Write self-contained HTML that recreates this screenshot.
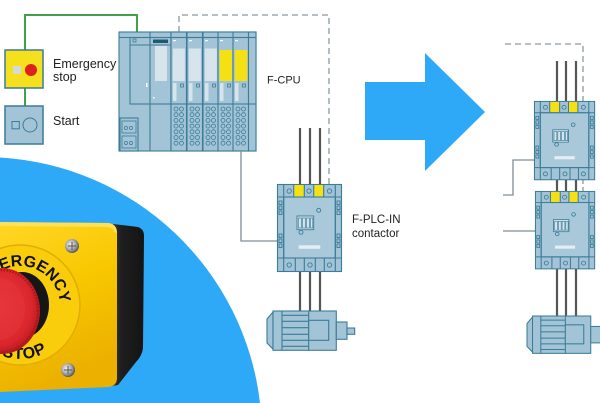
<!DOCTYPE html>
<html><head><meta charset="utf-8">
<style>
html,body{margin:0;padding:0;background:#fff;width:600px;height:403px;overflow:hidden;}
svg{display:block;}
text{font-family:"Liberation Sans",sans-serif;}
</style></head>
<body>
<svg width="600" height="403" viewBox="0 0 600 403" xmlns="http://www.w3.org/2000/svg" overflow="hidden">
<defs>
  <clipPath id="frame"><rect x="0" y="0" width="600" height="403"/></clipPath>
  <linearGradient id="yel" x1="0" y1="0" x2="0.3" y2="1">
    <stop offset="0" stop-color="#ffd726"/>
    <stop offset="0.5" stop-color="#f8c700"/>
    <stop offset="1" stop-color="#ebb000"/>
  </linearGradient>
  <linearGradient id="blk" x1="0" y1="0" x2="1" y2="0">
    <stop offset="0" stop-color="#3a3a3a"/>
    <stop offset="0.3" stop-color="#1e1e1e"/>
    <stop offset="1" stop-color="#141414"/>
  </linearGradient>
  <radialGradient id="red" cx="0.45" cy="0.45" r="0.6">
    <stop offset="0" stop-color="#ee3d40"/>
    <stop offset="0.75" stop-color="#d9262c"/>
    <stop offset="1" stop-color="#a8161b"/>
  </radialGradient>
  <radialGradient id="scr" cx="0.4" cy="0.4" r="0.6">
    <stop offset="0" stop-color="#f4f4f4"/>
    <stop offset="0.6" stop-color="#a9a9a9"/>
    <stop offset="1" stop-color="#5a5a5a"/>
  </radialGradient>

  <g id="dots" fill="none" stroke="#3b7c99" stroke-width="0.8">
    <circle cx="5" cy="109" r="2"/><circle cx="10.5" cy="109" r="2"/>
    <circle cx="5" cy="114.7" r="2"/><circle cx="10.5" cy="114.7" r="2"/>
    <circle cx="5" cy="120.4" r="2"/><circle cx="10.5" cy="120.4" r="2"/>
    <circle cx="5" cy="126.1" r="2"/><circle cx="10.5" cy="126.1" r="2"/>
    <circle cx="5" cy="131.8" r="2"/><circle cx="10.5" cy="131.8" r="2"/>
    <circle cx="5" cy="137.5" r="2"/><circle cx="10.5" cy="137.5" r="2"/>
    <circle cx="5" cy="143.2" r="2"/><circle cx="10.5" cy="143.2" r="2"/>
  </g>
  <g id="io" stroke="#3b7c99" stroke-width="1.1">
    <rect x="0" y="32" width="15.5" height="119" fill="#a3c3d6"/>
    <line x1="0" y1="37.5" x2="15.5" y2="37.5"/>
    <rect x="2" y="40" width="3" height="1.2" fill="#fff" stroke="none"/>
    <rect x="2" y="83" width="3.5" height="18" fill="#d7e4ec" stroke="none"/>
    <rect x="9.5" y="84" width="3" height="3" fill="none" stroke-width="0.8"/>
    <line x1="0" y1="104" x2="15.5" y2="104"/>
    <use href="#dots"/>
  </g>

  <g id="ct" stroke="#3b7c99" stroke-width="1.1">
    <rect x="0.5" y="0.5" width="64" height="87" fill="#a3c3d6"/>
    <rect x="16.7" y="1" width="10.6" height="12" fill="#f5e014" stroke="none"/>
    <rect x="36.7" y="1" width="10" height="12" fill="#f5e014" stroke="none"/>
    <rect x="6.7" y="13" width="51.6" height="61" fill="#a9c8da"/>
    <line x1="0.5" y1="13" x2="64.5" y2="13"/>
    <line x1="0.5" y1="74" x2="64.5" y2="74"/>
    <line x1="6.7" y1="0.5" x2="6.7" y2="87.5"/>
    <line x1="58.3" y1="0.5" x2="58.3" y2="87.5"/>
    <line x1="16.7" y1="0.5" x2="16.7" y2="13"/>
    <line x1="27.3" y1="0.5" x2="27.3" y2="13"/>
    <line x1="36.7" y1="0.5" x2="36.7" y2="13"/>
    <line x1="46.7" y1="0.5" x2="46.7" y2="13"/>
    <line x1="18.3" y1="74" x2="18.3" y2="87.5"/>
    <line x1="27.3" y1="74" x2="27.3" y2="87.5"/>
    <line x1="38.3" y1="74" x2="38.3" y2="87.5"/>
    <line x1="47.3" y1="74" x2="47.3" y2="87.5"/>
    <g fill="none" stroke-width="0.9">
      <circle cx="12.2" cy="7" r="2.2"/><circle cx="32" cy="7" r="2.2"/><circle cx="52.5" cy="7" r="2.2"/>
      <circle cx="12.2" cy="81" r="2.2"/><circle cx="33" cy="81" r="2.2"/><circle cx="52.5" cy="81" r="2.2"/>
      <rect x="2" y="17" width="3" height="3.5"/><rect x="2" y="22" width="3" height="3.5"/><rect x="2" y="27" width="3" height="3.5"/>
      <rect x="2" y="50" width="3" height="3.5"/><rect x="2" y="55" width="3" height="3.5"/><rect x="2" y="60" width="3" height="3.5"/>
      <rect x="60" y="17" width="3" height="3.5"/><rect x="60" y="22" width="3" height="3.5"/><rect x="60" y="27" width="3" height="3.5"/>
      <rect x="60" y="50" width="3" height="3.5"/><rect x="60" y="55" width="3" height="3.5"/><rect x="60" y="60" width="3" height="3.5"/>
      <circle cx="41.7" cy="26.3" r="2"/>
      <circle cx="24" cy="48.3" r="2"/>
    </g>
    <rect x="20" y="32" width="16.7" height="13.7" fill="#d7e4ec" stroke-width="0.9"/>
    <g fill="none" stroke-width="0.7">
      <rect x="21.3" y="34" width="3" height="10"/><rect x="25.3" y="34" width="3" height="10"/>
      <rect x="29.3" y="34" width="3" height="10"/><rect x="33.3" y="34" width="2.5" height="10"/>
    </g>
    <rect x="21.7" y="61.3" width="21.6" height="3.5" fill="#e6eef3" stroke="none"/>
  </g>

  <g id="motor" stroke="#3b7c99" stroke-width="1.1" fill="#a3c3d6">
    <polygon points="6,1 0,8 0,32 6,38"/>
    <rect x="6" y="0" width="63.3" height="39.3"/>
    <line x1="15" y1="0" x2="15" y2="39.3"/>
    <line x1="41.7" y1="0" x2="41.7" y2="39.3"/>
    <line x1="15" y1="4.3" x2="41.7" y2="4.3"/>
    <line x1="15" y1="10.3" x2="41.7" y2="10.3"/>
    <line x1="15" y1="16.7" x2="41.7" y2="16.7"/>
    <line x1="15" y1="23.3" x2="41.7" y2="23.3"/>
    <line x1="15" y1="29.3" x2="41.7" y2="29.3"/>
    <line x1="15" y1="35.3" x2="41.7" y2="35.3"/>
    <rect x="41.7" y="9.3" width="20" height="20"/>
    <rect x="69.3" y="11" width="10.7" height="17.3"/>
    <rect x="80" y="17" width="7.7" height="6.3"/>
  </g>
</defs>

<rect width="600" height="403" fill="#fff"/>

<g clip-path="url(#frame)">
<!-- big blue circle segment -->
<path d="M0,157.5 A278,278 0 0 1 260,403 L0,403 Z" fill="#2ea9f7"/>

<!-- photo of emergency stop box -->
<path d="M113,224 L138,227 Q144,229 144,236 L143,348 Q142,356 136,362 L118,385 L112,386 Z" fill="url(#blk)"/>
<path d="M0,222 L108,223 Q117,224 117,233 L117,378 Q117,386 108,387 L0,392 Z" fill="url(#yel)"/>
<path d="M0,222 L108,223 Q117,224 117,233 L114,232 Q113,227 106,227 L0,226 Z" fill="#ffe466" opacity="0.8"/>
<circle cx="20" cy="305" r="60" fill="#f9cc0c" stroke="#e2ad00" stroke-width="1.5"/>
<path id="arcTop" d="M-19.85,308.5 A40,40 0 0 1 59.95,302.9" fill="none"/>
<path id="arcBot" d="M-33.2,295.6 A54,54 0 0 0 70.7,323.5" fill="none"/>
<text font-size="16" font-weight="bold" fill="#111"><textPath href="#arcTop" startOffset="100%" text-anchor="end">EMERGENCY</textPath></text>
<text font-size="16" font-weight="bold" fill="#111" letter-spacing="1"><textPath href="#arcBot" startOffset="77%" text-anchor="end">STOP</textPath></text>
<ellipse cx="22" cy="305" rx="27" ry="33" fill="#161616"/>
<ellipse cx="2" cy="311" rx="38" ry="43" fill="url(#red)"/>
<ellipse cx="2" cy="311" rx="36" ry="41" fill="none" stroke="#a8161b" stroke-width="2.5" stroke-dasharray="1.5 1.5"/>
<ellipse cx="-1" cy="309" rx="26" ry="31" fill="#e3333a" opacity="0.6"/>
<circle cx="72" cy="246" r="7" fill="url(#scr)"/>
<path d="M68,246 L76,246 M72,242 L72,250" stroke="#555" stroke-width="1"/>
<circle cx="68" cy="370" r="7" fill="url(#scr)"/>
<path d="M64,370 L72,370 M68,366 L68,374" stroke="#555" stroke-width="1"/>
</g>

<!-- arrow -->
<polygon points="365,82 425,82 425,53 485,112 425,171 425,140 365,140" fill="#2ea9f7"/>

<!-- green wiring -->
<polyline points="25,50 25,15 137,15 137,32" fill="none" stroke="#44a044" stroke-width="2"/>
<line x1="25" y1="88" x2="25" y2="106" stroke="#44a044" stroke-width="2"/>

<!-- dashed lines -->
<polyline points="179,32 179,15 329,15 329,184" fill="none" stroke="#8a99a3" stroke-width="1.3" stroke-dasharray="6 4"/>
<polyline points="505,44 583,44 583,101" fill="none" stroke="#8a99a3" stroke-width="1.3" stroke-dasharray="6 4"/>
<line x1="583" y1="180" x2="583" y2="191" stroke="#8a99a3" stroke-width="1.3" stroke-dasharray="4 3"/>

<!-- emergency / start boxes -->
<rect x="5" y="50" width="38" height="38" fill="#f4e01c" stroke="#3b7c99" stroke-width="1.5"/>
<rect x="13" y="66" width="8" height="8" fill="#d4d9dc"/>
<circle cx="31" cy="70" r="6" fill="#e02020"/>
<rect x="5" y="106" width="38" height="38" fill="#a3c3d6" stroke="#3b7c99" stroke-width="1.5"/>
<rect x="12" y="121.5" width="7.3" height="7.3" fill="none" stroke="#3b7c99" stroke-width="1"/>
<circle cx="30" cy="125" r="7" fill="none" stroke="#3b7c99" stroke-width="1"/>
<g font-size="12.5" fill="#222">
  <text x="53" y="68">Emergency</text>
  <text x="53" y="81">stop</text>
  <text x="53" y="125">Start</text>
</g>

<!-- CPU rack -->
<g stroke="#3b7c99" stroke-width="1.1">
  <rect x="119" y="32" width="137" height="119" fill="#a3c3d6"/>
  <line x1="119" y1="37.5" x2="256" y2="37.5"/>
  <rect x="130" y="37.5" width="41" height="66.5" fill="#a3c3d6"/>
  <line x1="130" y1="45" x2="171" y2="45"/>
  <line x1="150" y1="32" x2="150" y2="151"/>
  <line x1="171" y1="32" x2="171" y2="151"/>
  <rect x="133" y="39" width="3" height="3" fill="none" stroke-width="0.8"/>
  <rect x="153" y="39.5" width="15" height="3.5" fill="#1f5a73" stroke="none"/>
  <rect x="155" y="46" width="12" height="35" fill="#d7e4ec" stroke="none"/>
  <rect x="146" y="83" width="1.5" height="4" fill="#fff" stroke="none"/>
  <rect x="153" y="97" width="1.5" height="1.5" fill="#fff" stroke="none"/>
  <rect x="120" y="118" width="18" height="33" fill="#a3c3d6"/>
  <rect x="122" y="121" width="14" height="12" fill="none" stroke-width="0.8"/>
  <rect x="122" y="136" width="14" height="12" fill="none" stroke-width="0.8"/>
  <g fill="none" stroke-width="0.7">
    <circle cx="126" cy="128" r="1.6"/><circle cx="131" cy="128" r="1.6"/>
    <circle cx="126" cy="143" r="1.6"/><circle cx="131" cy="143" r="1.6"/>
  </g>
</g>
<use href="#io" x="171"/>
<use href="#io" x="187"/>
<use href="#io" x="203"/>
<use href="#io" x="218"/>
<use href="#io" x="233"/>
<rect x="172.8" y="48.5" width="12" height="32.5" fill="#d7e4ec"/>
<rect x="188.8" y="48.5" width="12" height="32.5" fill="#d7e4ec"/>
<rect x="204.8" y="48.5" width="12" height="32.5" fill="#d7e4ec"/>
<rect x="219.5" y="50" width="12.5" height="31" fill="#f5e014"/>
<rect x="234.8" y="50" width="12.5" height="31" fill="#f5e014"/>
<g stroke="#3b7c99" stroke-width="1.1">
  <rect x="248.5" y="32" width="7.5" height="119" fill="#a3c3d6"/>
  <line x1="248.5" y1="37.5" x2="256" y2="37.5"/>
  <line x1="248.5" y1="104" x2="256" y2="104"/>
</g>
<text x="267" y="83.5" font-size="11" fill="#222">F-CPU</text>

<!-- CPU to contactor gray line -->
<polyline points="241,151 241,241 277,241" fill="none" stroke="#7d8d96" stroke-width="1.3"/>

<!-- power lines left -->
<g stroke="#555" stroke-width="2.2">
  <line x1="300" y1="128" x2="300" y2="184"/>
  <line x1="310" y1="128" x2="310" y2="184"/>
  <line x1="320" y1="128" x2="320" y2="184"/>
  <line x1="300" y1="272" x2="300" y2="311"/>
  <line x1="310" y1="272" x2="310" y2="311"/>
  <line x1="320" y1="272" x2="320" y2="311"/>
</g>
<use href="#ct" transform="translate(277,184)"/>
<use href="#motor" transform="translate(267,311)"/>
<g font-size="11.5" fill="#222">
  <text x="352" y="223">F-PLC-IN</text>
  <text x="352" y="237">contactor</text>
</g>

<!-- right side -->
<g stroke="#555" stroke-width="2.2">
  <line x1="557" y1="61" x2="557" y2="101"/>
  <line x1="566" y1="61" x2="566" y2="101"/>
  <line x1="576" y1="61" x2="576" y2="101"/>
  <line x1="557" y1="180" x2="557" y2="191"/>
  <line x1="566" y1="180" x2="566" y2="191"/>
  <line x1="576" y1="180" x2="576" y2="191"/>
  <line x1="557" y1="269" x2="557" y2="316"/>
  <line x1="566" y1="269" x2="566" y2="316"/>
  <line x1="576" y1="269" x2="576" y2="316"/>
</g>
<polyline points="503,195 513,195 513,160 534,160" fill="none" stroke="#7d8d96" stroke-width="1.3"/>
<line x1="503" y1="231" x2="535" y2="231" stroke="#7d8d96" stroke-width="1.3"/>
<use href="#ct" transform="translate(534,101) scale(0.94,0.9)"/>
<use href="#ct" transform="translate(535,191) scale(0.925,0.89)"/>
<g clip-path="url(#frame)">
<use href="#motor" transform="translate(527,316) scale(0.92,0.95)"/>
</g>
</svg>
</body></html>
